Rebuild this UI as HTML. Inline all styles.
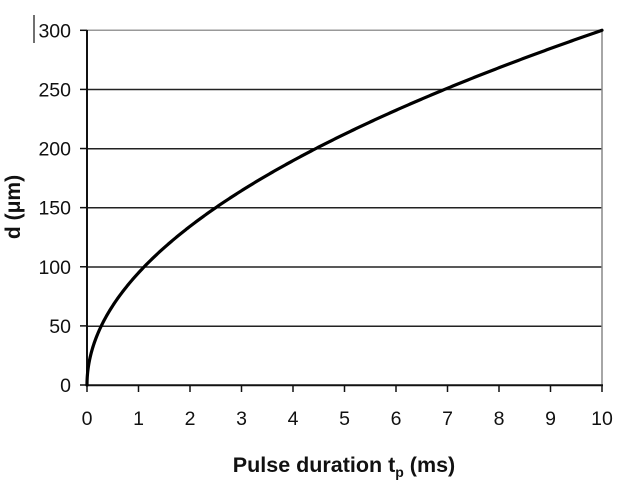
<!DOCTYPE html>
<html><head><meta charset="utf-8"><style>
html,body{margin:0;padding:0;background:#fff;}
svg{display:block;font-family:"Liberation Sans",Arial,sans-serif;}
</style></head><body>
<svg id="s" width="620" height="480" viewBox="0 0 620 480" xmlns="http://www.w3.org/2000/svg">
<rect width="620" height="480" fill="#fff"/>
<g stroke="#222" stroke-width="1.5">
<line x1="87" y1="30.3" x2="602" y2="30.3" stroke="#999"/>
<line x1="87" y1="89.5" x2="602" y2="89.5"/>
<line x1="87" y1="148.7" x2="602" y2="148.7"/>
<line x1="87" y1="207.8" x2="602" y2="207.8"/>
<line x1="87" y1="267" x2="602" y2="267"/>
<line x1="87" y1="326.2" x2="602" y2="326.2"/>
<line x1="602" y1="30" x2="602" y2="385" stroke="#888"/>
</g>
<g stroke="#111" stroke-width="2">
<line x1="87" y1="30" x2="87" y2="386"/>
<line x1="86" y1="385.3" x2="603" y2="385.3"/>
</g>
<g id="ticks" stroke="#111" stroke-width="1.5"></g>
<g font-size="19.5" fill="#111" text-anchor="end" id="yl"></g>
<g font-size="19.5" fill="#111" text-anchor="middle" id="xl"></g>
<line x1="34" y1="15" x2="34" y2="43" stroke="#111" stroke-width="1.2"/>
<polyline id="c" fill="none" stroke="#000" stroke-width="3.2" stroke-linejoin="round" stroke-linecap="round"/>
<text x="344" y="472" font-size="21.5" font-weight="bold" fill="#111" text-anchor="middle">Pulse duration t<tspan font-size="14" dy="5">p</tspan><tspan dy="-5"> (ms)</tspan></text>
<text transform="translate(20,207) rotate(-90)" font-size="21" font-weight="bold" fill="#111" text-anchor="middle">d (μm)</text>
</svg>
<script>
var X0=87,X1=602,Y0=385,Y1=30.3,ns="http://www.w3.org/2000/svg";
function el(p,t,a,txt){var e=document.createElementNS(ns,t);for(var k in a)e.setAttribute(k,a[k]);if(txt!=null)e.textContent=txt;document.getElementById(p).appendChild(e);}
for(var i=0;i<=6;i++){var y=Y0-(Y0-Y1)*i/6;el("ticks","line",{x1:80,y1:y,x2:87,y2:y});el("yl","text",{x:71,y:y+7},String(i*50));}
for(var i=0;i<=10;i++){var x=X0+(X1-X0)*i/10;el("ticks","line",{x1:x,y1:385,x2:x,y2:392});el("xl","text",{x:x,y:425},String(i));}
var pts=[];for(var j=0;j<=400;j++){var t=10*Math.pow(j/400,2);var d=300*Math.sqrt(t/10);pts.push((X0+(X1-X0)*t/10).toFixed(2)+","+(Y0-(Y0-Y1)*d/300).toFixed(2));}
document.getElementById("c").setAttribute("points",pts.join(" "));
</script>
</body></html>
